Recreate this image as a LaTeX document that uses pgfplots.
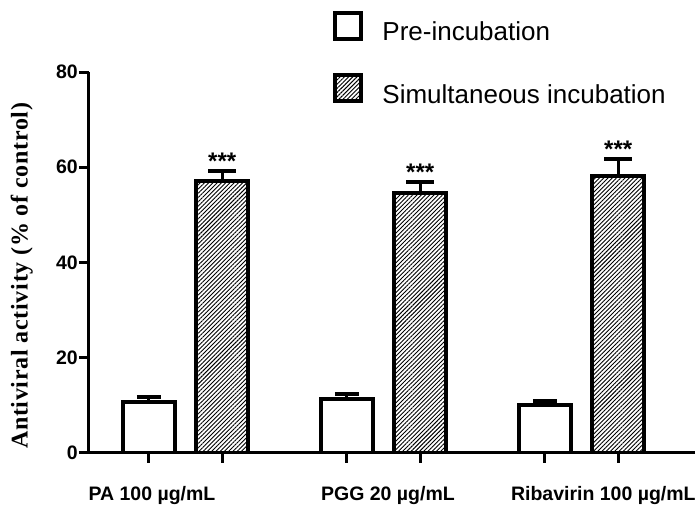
\documentclass[border=0pt]{standalone}
\usepackage{fontspec}
\setmainfont{Liberation Sans}
\newfontfamily\timesfont[LetterSpace=3]{Liberation Serif}
\usepackage{pgfplots}
\pgfplotsset{compat=1.18}
\usetikzlibrary{patterns.meta}
\tikzset{hatch/.style={pattern={Lines[angle=45,distance=3pt,line width=0.9pt]}}}
\begin{document}
\begin{tikzpicture}
\begin{axis}[
  at={(0pt,0pt)}, anchor=south west,
  scale only axis, width=606pt, height=381pt,
  xmin=-0.303, xmax=2.758, ymin=0, ymax=80,
  axis x line*=bottom, axis y line*=left,
  axis line style={-, line width=3pt, black},
  tick align=outside, major tick length=10pt,
  tick style={line width=3pt, black},
  xtick={0,0.37,1,1.37,2,2.37}, xticklabels={},
  ytick={0,20,40,60,80},
  /pgf/number format/assume math mode=true,
  yticklabel style={font=\bfseries\fontsize{19.5}{19.5}\selectfont, inner sep=1pt},
  extra x ticks={0.015,1.207,2.295},
  extra x tick labels={PA 100 µg/mL, PGG 20 µg/mL, Ribavirin 100 µg/mL},
  extra x tick style={major tick length=0pt,
    xticklabel style={font=\bfseries\fontsize{19.5}{19.5}\selectfont, anchor=north, yshift=-33pt, inner sep=0pt}},
  ylabel={\timesfont\bfseries\fontsize{24}{24}\selectfont Antiviral activity (\% of control)},
  ylabel style={at={(axis description cs:-0.111,0.465)}, anchor=center},
  legend style={draw=none, fill=none, at={(0.403,1.16)}, anchor=north west,
    inner sep=0pt, row sep=29pt, font=\fontsize{26}{26}\selectfont,
    /tikz/every even column/.append style={column sep=0pt}},
  legend cell align=left,
  error bars/y dir=plus, error bars/y explicit,
  error bars/error mark=|,
]
\addplot[ybar, bar width=52pt, bar shift=0pt, draw=black, line width=3.5pt, fill=white,
  error bars/error bar style={line width=3pt, black},
  error bars/error mark options={line width=4pt, mark size=12pt, black},
  legend image code/.code={\draw[line width=4pt,draw=black,fill=white] (2pt,-7pt) rectangle (28pt,19pt);}]
  coordinates {(0,10.7) +- (0,1.1) (1,11.3) +- (0,1.1) (2,10.1) +- (0,0.8)};
\addlegendentry{\hspace{17pt}Pre-incubation}
\addplot[ybar, bar width=52pt, bar shift=0pt, draw=black, line width=3.5pt, hatch,
  error bars/error bar style={line width=3pt, black},
  error bars/error mark options={line width=3.5pt, mark size=14pt, black},
  legend image code/.code={\draw[line width=4pt,draw=black,hatch] (2pt,-7pt) rectangle (28pt,19pt);}]
  coordinates {(0.37,57.1) +- (0,2.1) (1.37,54.6) +- (0,2.3) (2.37,58.2) +- (0,3.5)};
\addlegendentry{\hspace{17pt}Simultaneous incubation}
\addplot[draw=none, mark=none, nodes near coords={***},
  every node near coord/.append style={font=\bfseries\fontsize{24}{24}\selectfont, anchor=base, yshift=2pt, inner sep=0pt}]
  coordinates {(0.37,59.2) (1.37,56.9) (2.37,61.7)};
\end{axis}
\pgfresetboundingbox
\path (-89pt,-53pt) rectangle (608pt,453pt);
\end{tikzpicture}
\end{document}
